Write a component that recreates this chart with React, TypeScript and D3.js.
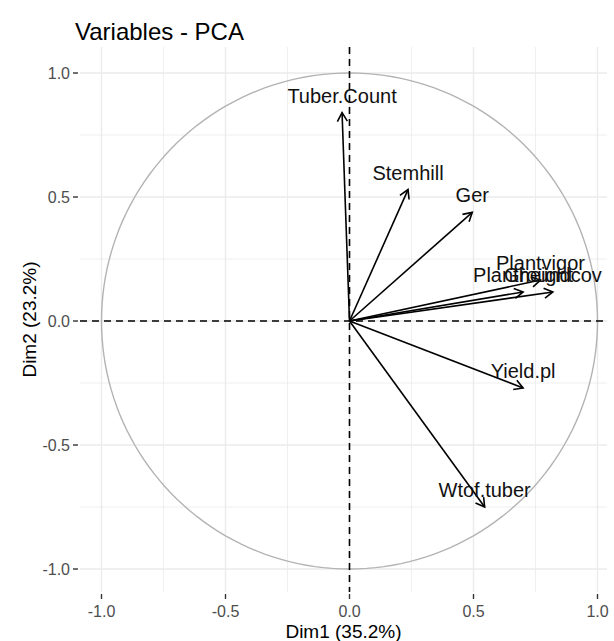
import React from "react";
import * as d3 from "d3";

const variables = ["Tuber.Count", "Stemhill", "Ger", "Plantvigor", "Plantheight", "Groundcov", "Yield.pl", "Wtof.tuber"];
const dim1 = [-0.03, 0.236, 0.495, 0.77, 0.70, 0.82, 0.70, 0.545];
const dim2 = [0.84, 0.53, 0.438, 0.165, 0.117, 0.117, -0.27, -0.75];
const ticks = [-1.0, -0.5, 0.0, 0.5, 1.0];
const minorTicks = [-0.75, -0.25, 0.25, 0.75];

const W = 614, H = 641;
const L = 80, R = 607, T = 47, B = 592;
const K = 248;
const X0 = 349.5, Y0 = 321;

export default function App() {
  const x = d3.scaleLinear().domain([(L - X0) / K, (R - X0) / K]).range([L, R]);
  const y = d3.scaleLinear().domain([(Y0 - B) / K, (Y0 - T) / K]).range([B, T]);
  const fmt = (v: number) => v.toFixed(1);
  const font = "'Liberation Sans', Arial, Helvetica, sans-serif";
  const circle = d3.range(0, 361, 2).map((a) => [Math.cos((a * Math.PI) / 180), Math.sin((a * Math.PI) / 180)] as [number, number]);
  const circPath = d3.line<[number, number]>().x((d) => x(d[0])).y((d) => y(d[1]))(circle) || "";
  const headLen = 10;
  const headAng = Math.PI / 6;
  return (
    <svg width={W} height={H} style={{ position: "absolute", left: 0, top: 0, background: "#fff" }} fontFamily={font}>
      <rect x={0} y={0} width={W} height={H} fill="#fff" />
      {minorTicks.map((t) => (
        <g key={"m" + t}>
          <line x1={x(t)} x2={x(t)} y1={T} y2={B} stroke="#EBEBEB" strokeWidth={0.8} />
          <line x1={L} x2={R} y1={y(t)} y2={y(t)} stroke="#EBEBEB" strokeWidth={0.8} />
        </g>
      ))}
      {ticks.map((t) => (
        <g key={"M" + t}>
          <line x1={x(t)} x2={x(t)} y1={T} y2={B} stroke="#EBEBEB" strokeWidth={1.4} />
          <line x1={L} x2={R} y1={y(t)} y2={y(t)} stroke="#EBEBEB" strokeWidth={1.4} />
        </g>
      ))}
      <path d={circPath} fill="none" stroke="#B3B3B3" strokeWidth={1.4} />
      <line x1={L} x2={R} y1={y(0)} y2={y(0)} stroke="#000" strokeWidth={1.6} strokeDasharray="7,5" />
      <line x1={x(0)} x2={x(0)} y1={T} y2={B} stroke="#000" strokeWidth={1.6} strokeDasharray="7,5" />
      {variables.map((v, i) => {
        const x1 = x(0), y1 = y(0), x2 = x(dim1[i]), y2 = y(dim2[i]);
        const ang = Math.atan2(y2 - y1, x2 - x1);
        const h1 = [x2 - headLen * Math.cos(ang - headAng), y2 - headLen * Math.sin(ang - headAng)];
        const h2 = [x2 - headLen * Math.cos(ang + headAng), y2 - headLen * Math.sin(ang + headAng)];
        return (
          <g key={v}>
            <line x1={x1} y1={y1} x2={x2} y2={y2} stroke="#000" strokeWidth={1.6} />
            <polyline points={`${h1[0]},${h1[1]} ${x2},${y2} ${h2[0]},${h2[1]}`} fill="none" stroke="#000" strokeWidth={1.6} />
          </g>
        );
      })}
      {variables.map((v, i) => (
        <text key={"t" + v} x={x(dim1[i])} y={y(dim2[i]) - 10} textAnchor="middle" fontSize={20} fill="#111">
          {v}
        </text>
      ))}
      {ticks.map((t) => (
        <g key={"xt" + t}>
          <line x1={x(t)} x2={x(t)} y1={B + 2} y2={B + 7} stroke="#333" strokeWidth={1.4} />
          <text x={x(t)} y={B + 25} textAnchor="middle" fontSize={16} fill="#4D4D4D">
            {fmt(t)}
          </text>
          <line x1={L - 7} x2={L - 2} y1={y(t)} y2={y(t)} stroke="#333" strokeWidth={1.4} />
          <text x={L - 10} y={y(t) + 5.5} textAnchor="end" fontSize={16} fill="#4D4D4D">
            {fmt(t)}
          </text>
        </g>
      ))}
      <text x={(L + R) / 2} y={638} textAnchor="middle" fontSize={19} fill="#000">
        Dim1 (35.2%)
      </text>
      <text transform={`translate(36,${(T + B) / 2}) rotate(-90)`} textAnchor="middle" fontSize={19} fill="#000">
        Dim2 (23.2%)
      </text>
      <text x={75} y={40} fontSize={24} fill="#000">
        Variables - PCA
      </text>
    </svg>
  );
}
